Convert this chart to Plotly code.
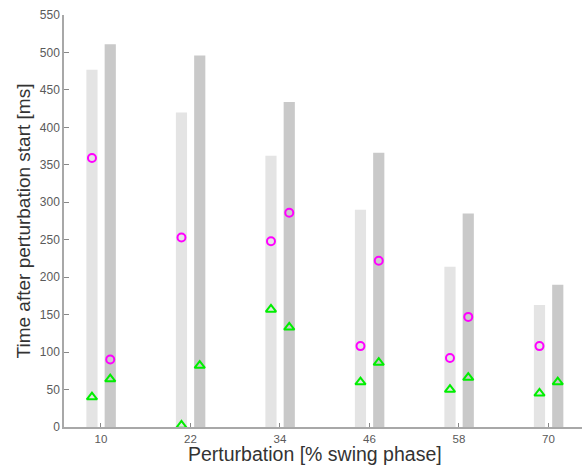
import plotly.graph_objects as go

perturbation = [10, 22, 34, 46, 58, 70]
light_bar = [477, 420, 362, 290, 214, 163]
dark_bar = [511, 496, 434, 366, 285, 190]
light_circle = [359, 253, 248, 108, 92, 108]
dark_circle = [90, None, 286, 222, 147, None]
light_tri = [40, 2, 157, 60, 50, 45]
dark_tri = [64, 82, 133, 86, 66, 60]
y_ticks = list(range(0, 551, 50))
x_title = "Perturbation [% swing phase]"
y_title = "Time after perturbation start [ms]"

light_x = [p - 1.2 for p in perturbation]
dark_x = [p + 1.25 for p in perturbation]

fig = go.Figure()
fig.add_trace(go.Bar(x=perturbation, y=light_bar, offset=-1.95, width=1.5,
                     marker=dict(color="#e4e4e4", line=dict(width=0)), showlegend=False))
fig.add_trace(go.Bar(x=perturbation, y=dark_bar, offset=0.5, width=1.5,
                     marker=dict(color="#c9c9c9", line=dict(width=0)), showlegend=False))
mk_c = dict(symbol="circle-open", size=8, color="#ff00ff", line=dict(width=2, color="#ff00ff"))
mk_t = dict(symbol="triangle-up-open", size=9, color="#00ee00", line=dict(width=2, color="#00ee00"))
fig.add_trace(go.Scatter(x=light_x, y=light_circle, mode="markers", marker=mk_c, showlegend=False))
fig.add_trace(go.Scatter(x=dark_x, y=dark_circle, mode="markers", marker=mk_c, showlegend=False))
fig.add_trace(go.Scatter(x=light_x, y=light_tri, mode="markers", marker=mk_t, showlegend=False))
fig.add_trace(go.Scatter(x=dark_x, y=dark_tri, mode="markers", marker=mk_t, showlegend=False))

fig.update_layout(
    width=582, height=466,
    margin=dict(l=64, r=0, t=15, b=39),
    paper_bgcolor="white", plot_bgcolor="white",
    barmode="overlay",
    font=dict(family="Liberation Sans, Arial, sans-serif", color="#555555"),
    annotations=[dict(text=x_title, xref="paper", yref="paper", x=0.485, y=-0.066,
                      xanchor="center", yanchor="middle", showarrow=False,
                      font=dict(size=19.5, color="#333333"))],
)
fig.update_xaxes(range=[5.05, 74.5], tickvals=perturbation, ticks="inside", ticklen=4,
                 tickcolor="#888888", showline=True, linecolor="#a8a8a8", linewidth=1.5,
                 showgrid=False, zeroline=False, tickfont=dict(size=11.5, color="#5a5a5a"),
                 automargin=False)
fig.update_yaxes(range=[0, 550], tickvals=y_ticks, ticks="inside", ticklen=5,
                 tickcolor="#888888", showline=True, linecolor="#a8a8a8", linewidth=1.5,
                 showgrid=False, zeroline=False, tickfont=dict(size=12, color="#5a5a5a"),
                 automargin=False,
                 title=dict(text=y_title, font=dict(size=19, color="#333333"), standoff=4))

fig.write_html("out.html", config={"displayModeBar": False},
               post_script="document.body.style.margin='0';document.body.style.overflow='hidden';")
